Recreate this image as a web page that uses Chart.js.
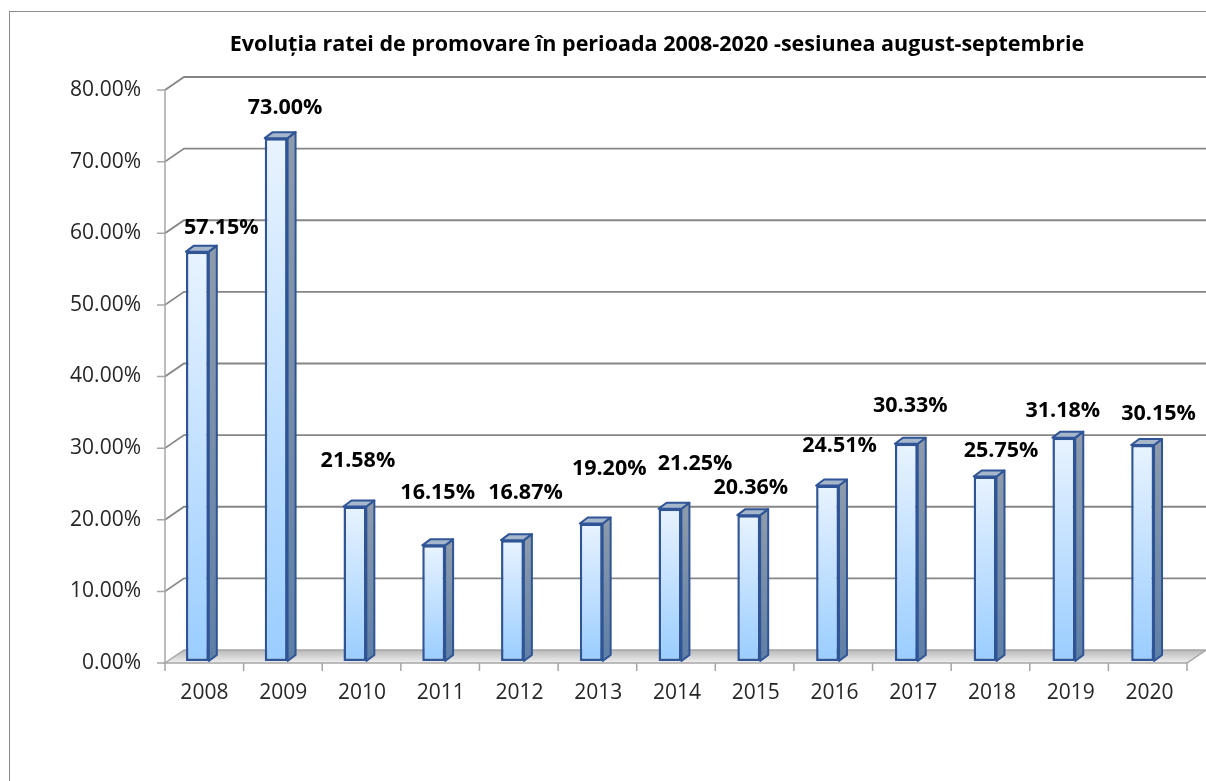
<!DOCTYPE html>
<html>
<head>
<meta charset="utf-8">
<script src="https://cdn.jsdelivr.net/npm/chart.js@4"></script>
<style>
  html, body { margin: 0; padding: 0; background: #fff; }
  #wrap { width: 1206px; height: 781px; }
</style>
</head>
<body>
<div id="wrap"><canvas id="rateChart" width="1206" height="781"></canvas></div>
<script>
const chartTitle = "Evoluția ratei de promovare în perioada 2008-2020 -sesiunea august-septembrie";
const years = ["2008", "2009", "2010", "2011", "2012", "2013", "2014", "2015", "2016", "2017", "2018", "2019", "2020"];
const passRate = [0.5715, 0.7300, 0.2158, 0.1615, 0.1687, 0.1920, 0.2125, 0.2036, 0.2451, 0.3033, 0.2575, 0.3118, 0.3015];
const yTicks = [0, 0.1, 0.2, 0.3, 0.4, 0.5, 0.6, 0.7, 0.8];

// where each value label sits relative to its bar top (px), as placed in the original
const labelNudge = [[24, -24], [9, -30], [3, -46], [4, -52], [13, -47], [18, -55], [25, -45],
                    [2, -27], [12, -40], [4, -38], [16, -26], [-1, -27], [16, -31]];

const FONT = '"Open Sans", "Liberation Sans", sans-serif';
const pct = v => (v * 100).toFixed(2) + '%';

// 3D look
const DX = 19, DY = 13;   // back wall offset
const BX = 8, BY = 6;     // bar depth
const FRONT = 2;          // front floor edge sits a bit below the bar base
const SHIFT = 7;          // front axis starts right of the first category edge

function barFill(context) {
  const chart = context.chart;
  if (!chart.chartArea || context.parsed == null) return '#bcdcff';
  const y = chart.scales.y;
  const top = y.getPixelForValue(context.parsed.y);
  const base = y.getPixelForValue(0);
  const g = chart.ctx.createLinearGradient(0, top, 0, base);
  g.addColorStop(0, '#e8f3ff');
  g.addColorStop(1, '#9acdff');
  return g;
}

const backdrop = {
  id: 'backdrop',
  beforeDatasetsDraw(chart) {
    const {ctx, chartArea: a, scales: {x, y}} = chart;
    const x0 = a.left + SHIFT;
    const x1 = a.right + 5;
    const yb = y.getPixelForValue(0) + FRONT;
    ctx.save();

    // outer frame
    ctx.strokeStyle = '#8c8c8c';
    ctx.lineWidth = 1;
    ctx.strokeRect(9.5, 11.5, 1400, 1000);

    // title
    ctx.fillStyle = '#000';
    ctx.font = 'bold 21.5px ' + FONT;
    ctx.textAlign = 'center';
    ctx.textBaseline = 'middle';
    ctx.fillText(chartTitle, 657, 45);

    // floor
    const g = ctx.createLinearGradient(0, yb - DY, 0, yb);
    g.addColorStop(0, '#b9b9b9');
    g.addColorStop(1, '#efefef');
    ctx.beginPath();
    ctx.moveTo(x0, yb);
    ctx.lineTo(x0 + DX, yb - DY);
    ctx.lineTo(x1 + DX, yb - DY);
    ctx.lineTo(x1, yb);
    ctx.closePath();
    ctx.fillStyle = g;
    ctx.fill();
    ctx.strokeStyle = '#a6a6a6';
    ctx.lineWidth = 1.5;
    ctx.stroke();

    // back wall grid lines with their diagonal returns
    ctx.strokeStyle = '#868686';
    ctx.lineWidth = 1.8;
    yTicks.forEach(v => {
      if (v === 0) return;
      const yf = y.getPixelForValue(v) + FRONT;
      ctx.beginPath();
      ctx.moveTo(x0, yf);
      ctx.lineTo(x0 + DX, yf - DY);
      ctx.lineTo(chart.width, yf - DY);
      ctx.stroke();
    });

    // front axes and tick marks
    ctx.strokeStyle = '#a6a6a6';
    ctx.lineWidth = 1.5;
    ctx.beginPath();
    ctx.moveTo(x0, y.getPixelForValue(yTicks[yTicks.length - 1]) + FRONT);
    ctx.lineTo(x0, yb);
    yTicks.forEach(v => {
      const yf = y.getPixelForValue(v) + FRONT;
      ctx.moveTo(x0 - 8, yf);
      ctx.lineTo(x0, yf);
    });
    const step = (x1 - x0) / years.length;
    for (let k = 0; k <= years.length; k++) {
      const xk = x0 + k * step;
      ctx.moveTo(xk, yb);
      ctx.lineTo(xk, yb + 8);
    }
    ctx.stroke();
    ctx.restore();
  },
  afterDatasetsDraw(chart) {
    const {ctx} = chart;
    const meta = chart.getDatasetMeta(0);
    ctx.save();
    ctx.lineJoin = 'round';
    meta.data.forEach((bar, i) => {
      const {x: cx, y: top, base, width} = bar.getProps(['x', 'y', 'base', 'width'], true);
      const l = cx - width / 2, r = cx + width / 2;

      // side face
      const gs = ctx.createLinearGradient(0, top, 0, base);
      gs.addColorStop(0, '#8d9bab');
      gs.addColorStop(1, '#5f7fa6');
      ctx.beginPath();
      ctx.moveTo(r, top);
      ctx.lineTo(r + BX, top - BY);
      ctx.lineTo(r + BX, base - BY);
      ctx.lineTo(r, base);
      ctx.closePath();
      ctx.fillStyle = gs;
      ctx.fill();
      ctx.strokeStyle = '#2f5597';
      ctx.lineWidth = 2;
      ctx.stroke();

      // top face
      ctx.beginPath();
      ctx.moveTo(l, top);
      ctx.lineTo(l + BX, top - BY);
      ctx.lineTo(r + BX, top - BY);
      ctx.lineTo(r, top);
      ctx.closePath();
      ctx.fillStyle = '#a7b7cb';
      ctx.fill();
      ctx.stroke();

      // value label
      const [nx, ny] = labelNudge[i];
      ctx.fillStyle = '#000';
      ctx.font = 'bold 21.5px ' + FONT;
      ctx.textAlign = 'center';
      ctx.textBaseline = 'middle';
      ctx.fillText(pct(passRate[i]), cx + nx, top + ny);
    });
    ctx.restore();
  }
};

new Chart(document.getElementById('rateChart'), {
  type: 'bar',
  data: {
    labels: years,
    datasets: [{
      label: 'Rata de promovare',
      data: passRate,
      backgroundColor: barFill,
      borderColor: '#2f5597',
      borderWidth: 2.5,
      borderSkipped: false,
      barPercentage: 0.29,
      categoryPercentage: 1
    }]
  },
  options: {
    responsive: false,
    animation: false,
    layout: { padding: { top: 88, right: 24, bottom: 70, left: 0 } },
    plugins: {
      legend: { display: false },
      title: { display: false },
      tooltip: { enabled: false }
    },
    scales: {
      x: {
        grid: { display: false, drawTicks: false },
        border: { display: false },
        ticks: { color: '#262626', font: { family: FONT, size: 21 }, padding: 19, labelOffset: SHIFT, maxRotation: 0 },
        afterFit(scale) { scale.height = 50; }
      },
      y: {
        min: 0,
        max: 0.8,
        grid: { display: false, drawTicks: false },
        border: { display: false },
        afterBuildTicks(scale) { scale.ticks = yTicks.map(v => ({ value: v })); },
        ticks: { color: '#262626', font: { family: FONT, size: 21 }, padding: 17, labelOffset: FRONT, callback: v => pct(v) },
        afterFit(scale) { scale.width = 158; }
      }
    }
  },
  plugins: [backdrop]
});
</script>
</body>
</html>
